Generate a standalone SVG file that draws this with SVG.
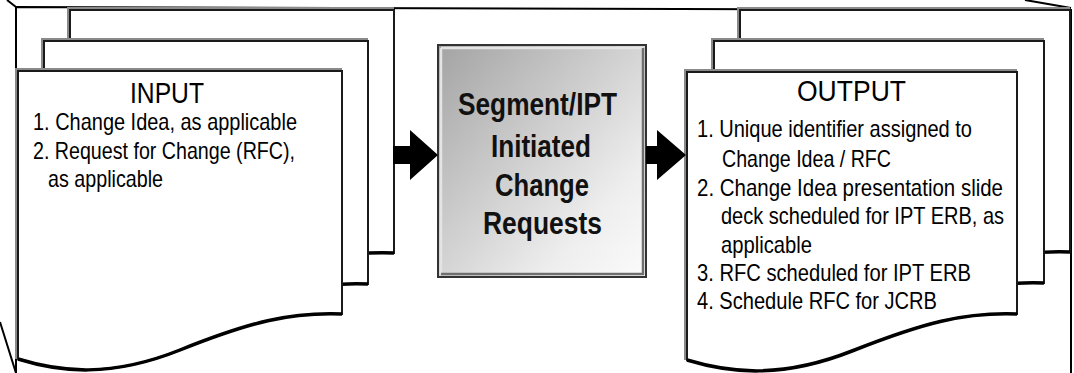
<svg xmlns="http://www.w3.org/2000/svg" width="1074" height="373" viewBox="0 0 1074 373">
<defs>
<style>
.pg{fill:#fff;stroke:#1a1a1a;stroke-width:2;stroke-linejoin:miter}
.sh{fill:none;stroke:#8a8a8a;stroke-width:2}
.wv{fill:none;stroke:#000;stroke-width:3.5}
.fr{fill:none;stroke:#000;stroke-width:2}
.t{font-family:"Liberation Sans",Arial,sans-serif;fill:#000}
.h{font-size:30px}
.l{font-size:24px}
.b{font-size:32px;font-weight:bold;fill:#111}
.arr{fill:#000}
</style>
<linearGradient id="g" x1="0" y1="0" x2="1" y2="1">
<stop offset="0" stop-color="#a3a3a3"/>
<stop offset="0.75" stop-color="#eeeeee"/>
<stop offset="1" stop-color="#fbfbfb"/>
</linearGradient>
<path id="inP" d="M0,288 V0 H324 V243 C272,241 232,251 162,279 C92,307 42,301 0,288 Z"/>
<path id="inW" d="M0,288 C42,301 92,307 162,279 C232,251 272,241 324,243"/>
<path id="inS" d="M-2,288 V-2 H324"/>
<path id="outP" d="M0,288 V0 H330 V242 C277,240 236,251 165,279 C94,307 43,301 0,288 Z"/>
<path id="outW" d="M0,288 C43,301 94,307 165,279 C236,251 277,240 330,242"/>
<path id="outS" d="M-2,288 V-2 H330"/>
</defs>
<g id="frame">
<path class="fr" d="M16,373 V7 L1071,10 V373"/>
<path class="fr" d="M7,0 L16,7 M1025,0 L1071,8 M0,322 L16,373"/>
</g>
<g id="input">
<use href="#inS" class="sh" transform="translate(70,10)"/>
<use href="#inP" class="pg" transform="translate(70,10)"/>
<use href="#inW" class="wv" transform="translate(70,10)"/>
<use href="#inS" class="sh" transform="translate(44,41)"/>
<use href="#inP" class="pg" transform="translate(44,41)"/>
<use href="#inW" class="wv" transform="translate(44,41)"/>
<use href="#inS" class="sh" transform="translate(18,71)"/>
<use href="#inP" class="pg" transform="translate(18,71)"/>
<use href="#inW" class="wv" transform="translate(18,71)"/>
<text class="t h" x="130" y="103" textLength="74" lengthAdjust="spacingAndGlyphs">INPUT</text>
<text class="t l" x="33" y="130" textLength="264" lengthAdjust="spacingAndGlyphs">1. Change Idea, as applicable</text>
<text class="t l" x="33" y="159" textLength="262" lengthAdjust="spacingAndGlyphs">2. Request for Change (RFC),</text>
<text class="t l" x="48" y="187" textLength="115" lengthAdjust="spacingAndGlyphs">as applicable</text>
</g>
<g id="process">
<rect x="438" y="45" width="208" height="232" fill="url(#g)" stroke="#333" stroke-width="2"/>
<path d="M441,48 H643 M441,48 V274" stroke="#e4e4e4" stroke-width="2.5" fill="none"/>
<path d="M643,48 V274 H441" stroke="#6f6f6f" stroke-width="2.5" fill="none"/>
<text class="t b" x="458" y="115" textLength="159" lengthAdjust="spacingAndGlyphs">Segment/IPT</text>
<text class="t b" x="491" y="157" textLength="100" lengthAdjust="spacingAndGlyphs">Initiated</text>
<text class="t b" x="495" y="196" textLength="94" lengthAdjust="spacingAndGlyphs">Change</text>
<text class="t b" x="483" y="234" textLength="119" lengthAdjust="spacingAndGlyphs">Requests</text>
</g>
<g id="output">
<use href="#outS" class="sh" transform="translate(740,10)"/>
<use href="#outP" class="pg" transform="translate(740,10)"/>
<use href="#outW" class="wv" transform="translate(740,10)"/>
<use href="#outS" class="sh" transform="translate(714,41)"/>
<use href="#outP" class="pg" transform="translate(714,41)"/>
<use href="#outW" class="wv" transform="translate(714,41)"/>
<use href="#outS" class="sh" transform="translate(687,72)"/>
<use href="#outP" class="pg" transform="translate(687,72)"/>
<use href="#outW" class="wv" transform="translate(687,72)"/>
<text class="t h" x="797" y="101" textLength="109" lengthAdjust="spacingAndGlyphs">OUTPUT</text>
<text class="t l" x="697" y="137" textLength="275" lengthAdjust="spacingAndGlyphs">1. Unique identifier assigned to</text>
<text class="t l" x="722" y="167" textLength="169" lengthAdjust="spacingAndGlyphs">Change Idea / RFC</text>
<text class="t l" x="697" y="196" textLength="306" lengthAdjust="spacingAndGlyphs">2. Change Idea presentation slide</text>
<text class="t l" x="721" y="224" textLength="283" lengthAdjust="spacingAndGlyphs">deck scheduled for IPT ERB, as</text>
<text class="t l" x="721" y="253" textLength="91" lengthAdjust="spacingAndGlyphs">applicable</text>
<text class="t l" x="697" y="281" textLength="274" lengthAdjust="spacingAndGlyphs">3. RFC scheduled for IPT ERB</text>
<text class="t l" x="697" y="309" textLength="240" lengthAdjust="spacingAndGlyphs">4. Schedule RFC for JCRB</text>
</g>
<g id="connectors">
<path class="arr" d="M393,146 H410 V130 L438,155 L410,180 V164 H393 Z"/>
<path class="arr" d="M646,146 H657 V130 L686,155 L657,180 V164 H646 Z"/>
</g>
</svg>
